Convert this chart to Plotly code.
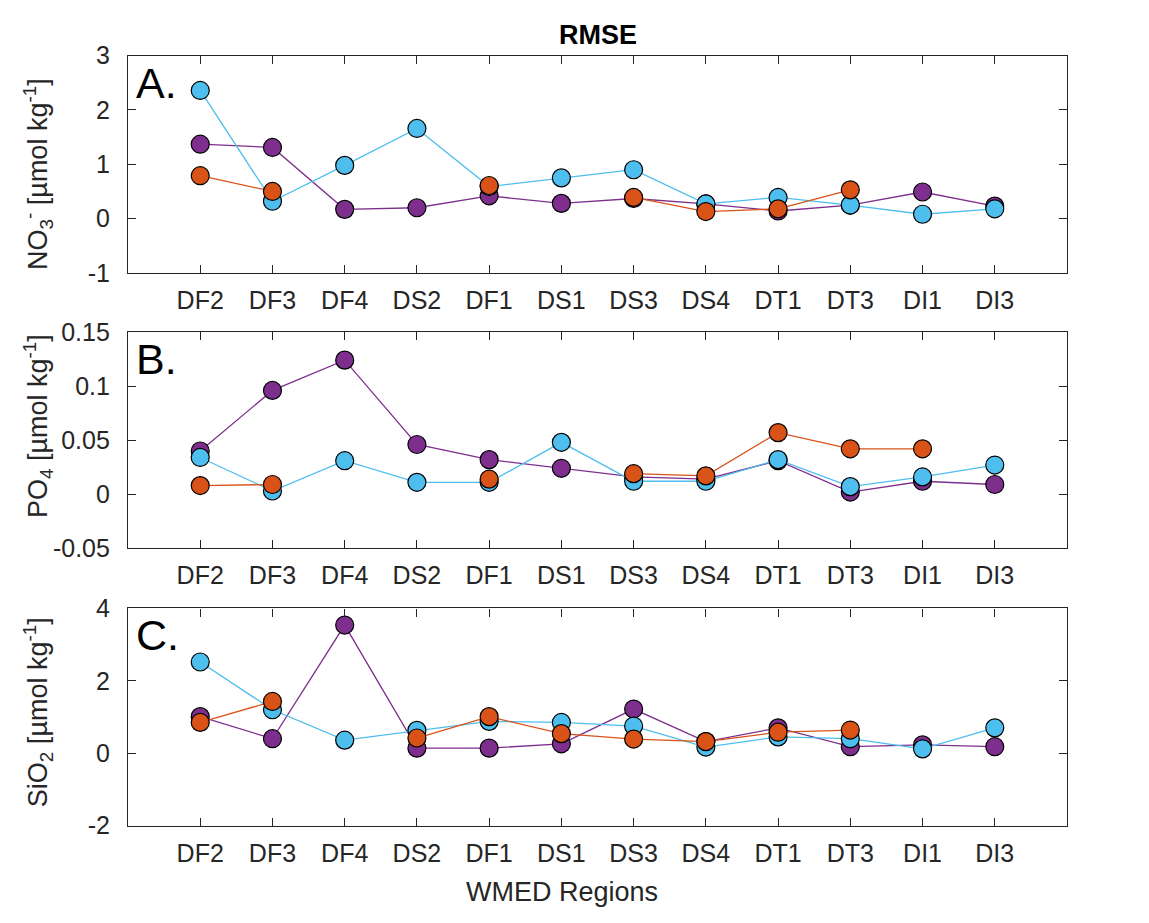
import plotly.graph_objects as go

regions = ["DF2", "DF3", "DF4", "DS2", "DF1", "DS1", "DS3", "DS4", "DT1", "DT3", "DI1", "DI3"]
N = None

# Panel A: NO3
no3_purple = [1.37, 1.31, 0.17, 0.20, 0.42, 0.28, 0.37, 0.27, 0.14, 0.25, 0.49, 0.23]
no3_cyan = [2.36, 0.32, 0.98, 1.66, 0.59, 0.75, 0.90, 0.27, 0.39, 0.25, 0.08, 0.18]
no3_orange = [0.79, 0.50, N, N, 0.61, N, 0.39, 0.13, 0.18, 0.53, N, N]

# Panel B: PO4
po4_purple = [0.040, 0.096, 0.124, 0.046, 0.032, 0.024, 0.016, 0.014, 0.031, 0.002, 0.012, 0.009]
po4_cyan = [0.034, 0.003, 0.031, 0.011, 0.011, 0.048, 0.012, 0.012, 0.032, 0.007, 0.016, 0.027]
po4_orange = [0.008, 0.009, N, N, 0.014, N, 0.019, 0.017, 0.057, 0.042, 0.042, N]

# Panel C: SiO2
sio2_purple = [1.01, 0.40, 3.54, 0.14, 0.14, 0.26, 1.22, 0.32, 0.70, 0.18, 0.23, 0.18]
sio2_cyan = [2.52, 1.20, 0.36, 0.63, 0.88, 0.85, 0.75, 0.17, 0.45, 0.40, 0.12, 0.70]
sio2_orange = [0.85, 1.43, N, 0.42, 1.01, 0.54, 0.39, 0.32, 0.58, 0.64, N, N]

y_titles = ["NO<sub>3</sub><sup>-</sup> [µmol kg<sup>-1</sup>]",
            "PO<sub>4</sub> [µmol kg<sup>-1</sup>]",
            "SiO<sub>2</sub> [µmol kg<sup>-1</sup>]"]
letters = ["A.", "B.", "C."]
y_ranges = [[-1, 3], [-0.05, 0.15], [-2, 4]]
y_ticks = [[-1, 0, 1, 2, 3], [-0.05, 0, 0.05, 0.1, 0.15], [-2, 0, 2, 4]]
y_ticktext = [["-1", "0", "1", "2", "3"], ["-0.05", "0", "0.05", "0.1", "0.15"], ["-2", "0", "2", "4"]]

W, H = 1149, 923
px_x = (128, 1067)
px_y = [(43, 267), (328, 551), (613, 837)]
ylabel_center_px = [165, 425, 720]

C_PURPLE = "#7E2F8E"
C_CYAN = "#4DBEEE"
C_ORANGE = "#D95319"
AX = "#262626"
FONT = "Liberation Sans, Arial, sans-serif"
TICK_SIZE = 25

panels = [
    (no3_purple, no3_cyan, no3_orange),
    (po4_purple, po4_cyan, po4_orange),
    (sio2_purple, sio2_cyan, sio2_orange),
]

fig = go.Figure()
for i, (pu, cy, orr) in enumerate(panels):
    xa = "x" if i == 0 else f"x{i+1}"
    ya = "y" if i == 0 else f"y{i+1}"
    for vals, col in ((pu, C_PURPLE), (cy, C_CYAN), (orr, C_ORANGE)):
        fig.add_trace(go.Scatter(
            x=regions, y=vals, xaxis=xa, yaxis=ya, mode="lines+markers",
            line=dict(color=col, width=1.3), connectgaps=False,
            marker=dict(size=18, color=col, line=dict(color="#000000", width=1.2)),
            showlegend=False, hoverinfo="x+y"))

layout = dict(width=W, height=H, margin=dict(l=0, r=0, t=0, b=0),
              paper_bgcolor="white", plot_bgcolor="white",
              font=dict(family=FONT, color=AX, size=TICK_SIZE))
annotations = []
for i in range(3):
    sfx = "" if i == 0 else str(i + 1)
    y0, y1 = px_y[i]
    dom_y = [1 - y1 / H, 1 - y0 / H]
    layout["xaxis" + sfx] = dict(
        domain=[px_x[0] / W, px_x[1] / W], anchor="y" + sfx,
        type="category", categoryorder="array", categoryarray=regions,
        range=[-1, 12], showgrid=False, zeroline=False,
        showline=True, linecolor=AX, linewidth=1.2, mirror="ticks",
        ticks="inside", ticklen=8, tickcolor=AX, tickwidth=1.2,
        tickfont=dict(size=TICK_SIZE, color=AX, family=FONT), ticklabelstandoff=5)
    layout["yaxis" + sfx] = dict(
        domain=dom_y, anchor="x" + sfx, range=y_ranges[i],
        tickvals=y_ticks[i], ticktext=y_ticktext[i],
        showgrid=False, zeroline=False,
        showline=True, linecolor=AX, linewidth=1.2, mirror="ticks",
        ticks="inside", ticklen=8, tickcolor=AX, tickwidth=1.2,
        tickfont=dict(size=TICK_SIZE, color=AX, family=FONT), ticklabelstandoff=12)
    annotations.append(dict(
        text=y_titles[i], x=38 / W, y=1 - ylabel_center_px[i] / H, xref="paper", yref="paper",
        textangle=-90, showarrow=False, xanchor="center", yanchor="middle",
        font=dict(size=27, color=AX, family=FONT)))
    annotations.append(dict(
        text=letters[i], x=134 / W, y=1 - (y0 + 1) / H, xref="paper", yref="paper",
        showarrow=False, xanchor="left", yanchor="top",
        font=dict(size=43, color="#000000", family=FONT)))

annotations.append(dict(text="<b>RMSE</b>", x=597.5 / W, y=1 - 22 / H, xref="paper", yref="paper",
                        showarrow=False, xanchor="center", yanchor="middle",
                        font=dict(size=27, color="#000000", family=FONT)))
annotations.append(dict(text="WMED Regions", x=562 / W, y=1 - 905 / H, xref="paper", yref="paper",
                        showarrow=False, xanchor="center", yanchor="middle",
                        font=dict(size=27, color=AX, family=FONT)))
layout["annotations"] = annotations
fig.update_layout(**layout)
fig.write_html("out.html")
